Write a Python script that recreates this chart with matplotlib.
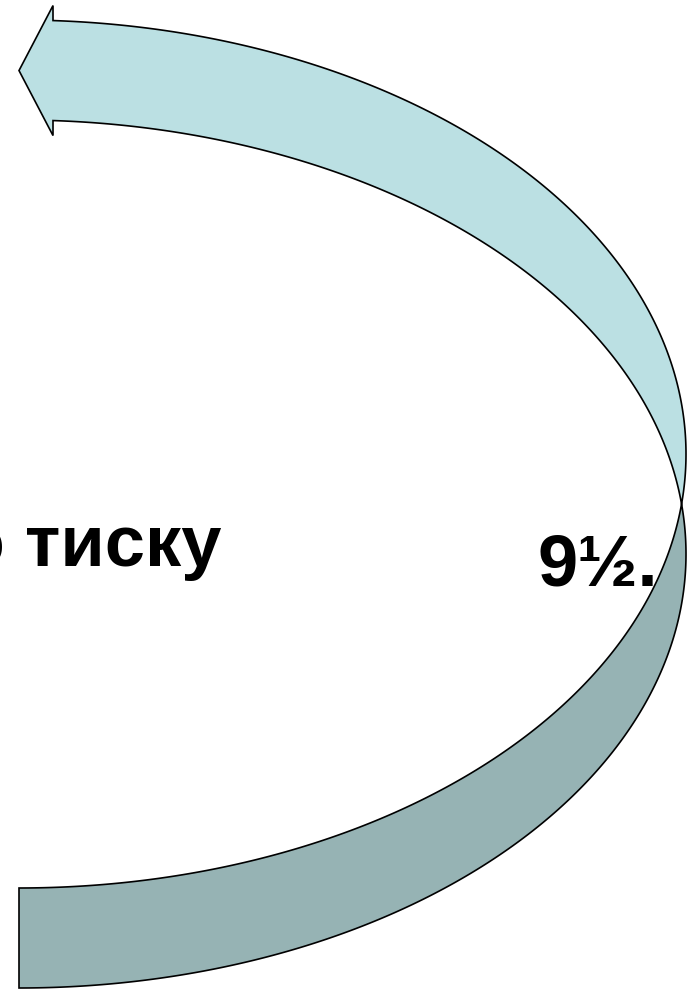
import numpy as np
import matplotlib
matplotlib.use('Agg')
import matplotlib.pyplot as plt
from matplotlib.patches import Polygon

# Text labels on the slide
left_label = 'по тиску'
right_label = '9½.'

# Curved arrow geometry (pixels, y grows downward)
cx = 19            # left edge of the shape, centre x of both ellipses
rx = 667           # horizontal radius
ry = 434           # vertical radius
cy_front = 454     # ellipse 1 centre y
cy_back = 554      # ellipse 2 centre y
head_len = 34      # arrow head length
head_barb = 15     # how far the barbs stick out

light = '#BBE0E3'
dark = '#96B3B4'

fig = plt.figure(figsize=(6.95, 9.89), dpi=100)
ax = fig.add_axes([0, 0, 1, 1])
ax.set_xlim(0, 695)
ax.set_ylim(989, 0)
ax.axis('off')


def arc(cy, t0, t1, n=300):
    t = np.linspace(t0, t1, n)
    return np.column_stack([cx + rx * np.cos(t), cy + ry * np.sin(t)])


# angle where the two ellipses cross on the right side
s = (cy_back - cy_front) / (2 * ry)
t_cross = np.arcsin(s)
# angle at the base of the arrow head
t_base = -np.arccos(head_len / rx)

# front (light) band with the arrow head
outer = arc(cy_front, t_base, t_cross)
inner = arc(cy_back, -t_cross, t_base)
x_base = cx + head_len
y_top = outer[0, 1]
y_bot = inner[-1, 1]
tip = [cx, (y_top + y_bot) / 2]
head = np.array([[x_base, y_bot + head_barb], tip, [x_base, y_top - head_barb]])
front = np.vstack([outer, inner, head])
ax.add_patch(Polygon(front, closed=True, facecolor=light, edgecolor='black', lw=1.2))

# back (dark) band
b_outer = arc(cy_back, -t_cross, np.pi / 2)
b_inner = arc(cy_front, np.pi / 2, t_cross)
back = np.vstack([b_outer, b_inner])
ax.add_patch(Polygon(back, closed=True, facecolor=dark, edgecolor='black', lw=1.2))

font = dict(family=['Liberation Sans', 'DejaVu Sans'], weight='bold', size=52)
ax.text(221, 566, left_label, ha='right', va='baseline', **font)
ax.text(537, 586, right_label, ha='left', va='baseline', **font)

fig.savefig('out.png', dpi=100)
